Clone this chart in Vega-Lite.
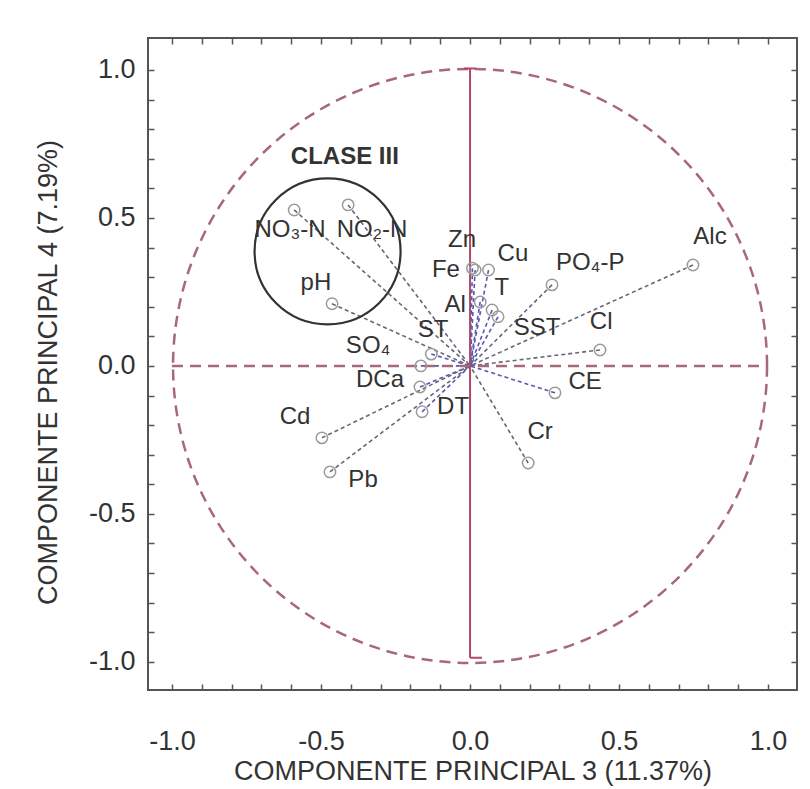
{
  "$schema": "https://vega.github.io/schema/vega-lite/v6.json",
  "width": 649,
  "height": 652,
  "autosize": "none",
  "padding": {"left": 148, "top": 38, "right": 13, "bottom": 99},
  "background": "white",
  "config": {
    "view": {"stroke": "#555555", "strokeWidth": 2},
    "font": "Liberation Sans"
  },
  "datasets": {
    "vars": [
      {"var": "NO₃-N", "x": -0.59, "y": 0.527, "lx": -0.604, "ly": 0.459},
      {"var": "NO₂-N", "x": -0.409, "y": 0.544, "lx": -0.329, "ly": 0.459},
      {"var": "pH", "x": -0.463, "y": 0.21, "lx": -0.517, "ly": 0.28},
      {"var": "Zn", "x": 0.008, "y": 0.33, "lx": -0.027, "ly": 0.426},
      {"var": "Fe", "x": 0.017, "y": 0.324, "lx": -0.081, "ly": 0.324},
      {"var": "Cu", "x": 0.062, "y": 0.324, "lx": 0.144, "ly": 0.378},
      {"var": "PO₄-P", "x": 0.275, "y": 0.274, "lx": 0.403, "ly": 0.348},
      {"var": "Alc", "x": 0.748, "y": 0.341, "lx": 0.805, "ly": 0.436},
      {"var": "T", "x": 0.074, "y": 0.189, "lx": 0.107, "ly": 0.264},
      {"var": "Al", "x": 0.034, "y": 0.216, "lx": -0.05, "ly": 0.206},
      {"var": "SST", "x": 0.094, "y": 0.166, "lx": 0.225, "ly": 0.128},
      {"var": "Cl", "x": 0.436, "y": 0.054, "lx": 0.44, "ly": 0.149},
      {"var": "ST", "x": -0.13, "y": 0.04, "lx": -0.124, "ly": 0.122},
      {"var": "SO₄", "x": -0.165, "y": 0.0, "lx": -0.342, "ly": 0.068},
      {"var": "DCa", "x": -0.168, "y": -0.071, "lx": -0.302, "ly": -0.047},
      {"var": "CE", "x": 0.285, "y": -0.091, "lx": 0.386, "ly": -0.054},
      {"var": "DT", "x": -0.161, "y": -0.155, "lx": -0.057, "ly": -0.139},
      {"var": "Cd", "x": -0.497, "y": -0.243, "lx": -0.587, "ly": -0.172},
      {"var": "Cr", "x": 0.195, "y": -0.328, "lx": 0.235, "ly": -0.223},
      {"var": "Pb", "x": -0.47, "y": -0.358, "lx": -0.359, "ly": -0.385}
    ]
  },
  "resolve": {"axis": {"x": "independent", "y": "independent"}},
  "layer": [
    {
      "data": {"values": [{"cx": 0, "cy": 0}]},
      "mark": {"type": "point", "shape": "circle", "size": 352836, "filled": false, "opacity": 1, "stroke": "#a86878", "strokeWidth": 2.5, "strokeDash": [11, 7]},
      "encoding": {
        "x": {
          "field": "cx", "type": "quantitative",
          "scale": {"domain": [-1.0805, 1.097], "nice": false, "zero": false},
          "axis": {
            "orient": "bottom",
            "offset": -6,
            "zindex": 1,
            "values": [-1.0, -0.9, -0.8, -0.7, -0.6, -0.5, -0.4, -0.3, -0.2, -0.1, 0.0, 0.1, 0.2, 0.3, 0.4, 0.5, 0.6, 0.7, 0.8, 0.9, 1.0],
            "labelExpr": "abs(datum.value*2 - round(datum.value*2)) < 0.001 ? replace(format(datum.value, '.1f'), '\u2212', '-') : ''",
            "tickSize": 6,
            "tickColor": "#555555",
            "tickWidth": 1.5,
            "domain": false,
            "grid": false,
            "labelFontSize": 27,
            "labelColor": "#333333",
            "labelPadding": 38,
            "labelFlush": false,
            "title": "COMPONENTE PRINCIPAL 3 (11.37%)",
            "titleFontSize": 27,
            "titleFontWeight": "normal",
            "titleColor": "#333333",
            "titlePadding": 4
          }
        },
        "y": {
          "field": "cy", "type": "quantitative",
          "scale": {"domain": [-1.095, 1.108], "nice": false, "zero": false},
          "axis": {
            "orient": "left",
            "offset": -6,
            "zindex": 1,
            "values": [-1.0, -0.9, -0.8, -0.7, -0.6, -0.5, -0.4, -0.3, -0.2, -0.1, 0.0, 0.1, 0.2, 0.3, 0.4, 0.5, 0.6, 0.7, 0.8, 0.9, 1.0],
            "labelExpr": "abs(datum.value*2 - round(datum.value*2)) < 0.001 ? replace(format(datum.value, '.1f'), '\u2212', '-') : ''",
            "tickSize": 6,
            "tickColor": "#555555",
            "tickWidth": 1.5,
            "domain": false,
            "grid": false,
            "labelFontSize": 27,
            "labelColor": "#333333",
            "labelPadding": 13,
            "labelFlush": false,
            "title": "COMPONENTE PRINCIPAL 4  (7.19%)",
            "titleFontSize": 27,
            "titleFontWeight": "normal",
            "titleColor": "#333333",
            "titlePadding": 26,
            "titleY": 334
          }
        }
      }
    },
    {
      "data": {"name": "vars"},
      "mark": {"type": "rule", "strokeDash": [4, 3], "strokeWidth": 1.6},
      "encoding": {
        "x": {
          "field": "x", "type": "quantitative",
          "axis": {
            "orient": "top",
            "offset": -6,
            "zindex": 1,
            "values": [-1.0, -0.9, -0.8, -0.7, -0.6, -0.5, -0.4, -0.3, -0.2, -0.1, 0.0, 0.1, 0.2, 0.3, 0.4, 0.5, 0.6, 0.7, 0.8, 0.9, 1.0],
            "labels": false, "title": null, "domain": false, "grid": false,
            "tickSize": 6,
            "tickColor": "#555555", "tickWidth": 1.5
          }
        },
        "y": {
          "field": "y", "type": "quantitative",
          "axis": {
            "orient": "right",
            "offset": -6,
            "zindex": 1,
            "values": [-1.0, -0.9, -0.8, -0.7, -0.6, -0.5, -0.4, -0.3, -0.2, -0.1, 0.0, 0.1, 0.2, 0.3, 0.4, 0.5, 0.6, 0.7, 0.8, 0.9, 1.0],
            "labels": false, "title": null, "domain": false, "grid": false,
            "tickSize": 6,
            "tickColor": "#555555", "tickWidth": 1.5
          }
        },
        "x2": {"datum": 0},
        "y2": {"datum": 0},
        "color": {"condition": {"test": "datum.x*datum.x + datum.y*datum.y < 0.13", "value": "#5858b0"}, "value": "#66667a"}
      }
    },
    {
      "data": {"values": [{}]},
      "mark": {"type": "rule", "stroke": "#a86878", "strokeWidth": 2.5, "strokeDash": [11, 7]},
      "encoding": {
        "x": {"datum": -1, "type": "quantitative", "axis": null},
        "x2": {"datum": 1},
        "y": {"datum": 0, "type": "quantitative", "axis": null}
      }
    },
    {
      "data": {"values": [{}]},
      "mark": {"type": "rule", "stroke": "#b04a6a", "strokeWidth": 2},
      "encoding": {
        "x": {"datum": 0, "type": "quantitative", "axis": null},
        "y": {"datum": -0.986, "type": "quantitative", "axis": null},
        "y2": {"datum": 1.005}
      }
    },
    {
      "data": {"values": [{"a": -0.02, "b": 0.02, "c": 1.005}, {"a": 0.0, "b": 0.04, "c": -0.986}]},
      "mark": {"type": "rule", "stroke": "#b04a6a", "strokeWidth": 2},
      "encoding": {
        "x": {"field": "a", "type": "quantitative", "axis": null},
        "x2": {"field": "b"},
        "y": {"field": "c", "type": "quantitative", "axis": null}
      }
    },
    {
      "data": {"name": "vars"},
      "mark": {"type": "point", "shape": "circle", "size": 130, "filled": false, "opacity": 1, "stroke": "#9a9a9a", "strokeWidth": 1.5},
      "encoding": {
        "x": {"field": "x", "type": "quantitative", "axis": null},
        "y": {"field": "y", "type": "quantitative", "axis": null}
      }
    },
    {
      "data": {"name": "vars"},
      "mark": {"type": "text", "fontSize": 24, "color": "#333333", "align": "center", "baseline": "middle"},
      "encoding": {
        "x": {"field": "lx", "type": "quantitative", "axis": null},
        "y": {"field": "ly", "type": "quantitative", "axis": null},
        "text": {"field": "var"}
      }
    },
    {
      "data": {"values": [{"gx": -0.478, "gy": 0.387}]},
      "mark": {"type": "point", "shape": "circle", "size": 21316, "filled": false, "opacity": 1, "stroke": "#333333", "strokeWidth": 2.2},
      "encoding": {
        "x": {"field": "gx", "type": "quantitative", "axis": null},
        "y": {"field": "gy", "type": "quantitative", "axis": null}
      }
    },
    {
      "data": {"values": [{"tx": -0.42, "ty": 0.706, "t": "CLASE III"}]},
      "mark": {"type": "text", "fontSize": 24, "fontWeight": "bold", "color": "#333333", "align": "center", "baseline": "middle"},
      "encoding": {
        "x": {"field": "tx", "type": "quantitative", "axis": null},
        "y": {"field": "ty", "type": "quantitative", "axis": null},
        "text": {"field": "t"}
      }
    }
  ]
}
